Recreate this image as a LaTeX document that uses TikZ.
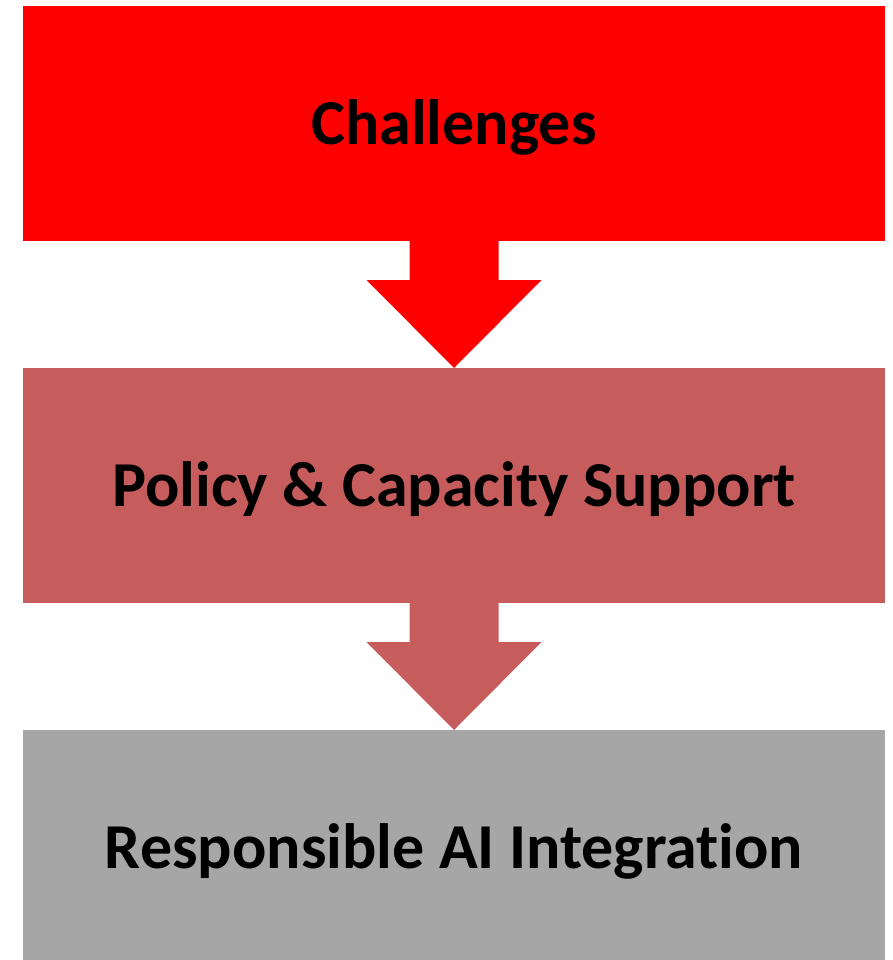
\documentclass[tikz,border=0pt]{standalone}
\usepackage{fontspec}
\setmainfont{Carlito}[Ligatures=NoCommon]
\usetikzlibrary{positioning,calc}

\definecolor{rougevif}{RGB}{255,0,0}
\definecolor{rougepale}{RGB}{199,92,92}
\definecolor{grismoyen}{RGB}{166,166,166}

\tikzset{
  bloc/.style={minimum width=862pt, minimum height=235pt, inner sep=0pt, outer sep=0pt,
    text height=48pt, text depth=6pt,
    font=\fontsize{64}{72}\selectfont\bfseries, text=black}
}

% flèche pleine d'un bloc vers le suivant : {départ}{arrivée}{couleur}
\newcommand{\fleche}[3]{%
  \fill[#3] ($(#1.south)+(-44.5pt,0)$) -- ++(0,-39pt) -- ++(-43pt,0) -- (#2.north)
    -- ($(#1.south)+(87.5pt,-39pt)$) -- ++(-43pt,0) -- ($(#1.south)+(44.5pt,0)$) -- cycle;}

\begin{document}
\begin{tikzpicture}
    % cadre de l'image
    \useasboundingbox (0,0) rectangle (892pt,-960pt);

    % les trois blocs, l'un sous l'autre
    \node[bloc, fill=rougevif] (defis) at (454pt,-123.5pt) {Challenges};
    \node[bloc, fill=rougepale, below=127pt of defis] (soutien) {Policy \& Capacity Support};
    \node[bloc, fill=grismoyen, below=127pt of soutien] (integration) {Responsible AI Integration};

    % flèches entre les blocs
    \fleche{defis}{soutien}{rougevif}
    \fleche{soutien}{integration}{rougepale}
\end{tikzpicture}
\end{document}
